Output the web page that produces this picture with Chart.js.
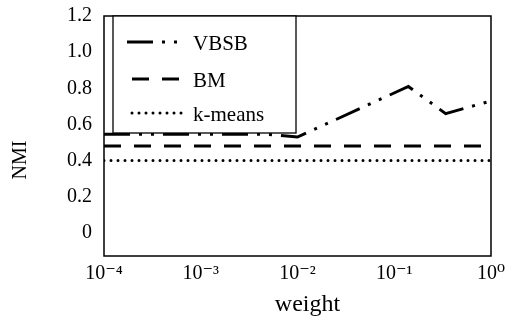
<!DOCTYPE html>
<html>
<head>
<meta charset="utf-8">
<script src="https://cdn.jsdelivr.net/npm/chart.js@4"></script>
<style>
  html, body { margin: 0; padding: 0; background: #fff; }
  #wrap { width: 511px; height: 324px; }
</style>
</head>
<body>
<div id="wrap"><canvas id="nmiChart" width="511" height="324"></canvas></div>
<script>
// Data
const vbsbWeights = [0.0001, 0.001, 0.005, 0.01, 0.14, 0.34, 1];
const vbsbNmi = [0.545, 0.545, 0.545, 0.53, 0.81, 0.66, 0.73];
const flatWeights = [0.0001, 1];
const bmNmi = [0.48, 0.48];
const kmeansNmi = [0.40, 0.40];

const xTickValues = [0.0001, 0.001, 0.01, 0.1, 1];
const xTickLabels = ["10⁻⁴", "10⁻³", "10⁻²", "10⁻¹", "10⁰"];
const yTickValues = [0, 0.2, 0.4, 0.6, 0.8, 1.0, 1.2];
const yTickLabels = ["0", "0.2", "0.4", "0.6", "0.8", "1.0", "1.2"];

const seriesNames = ["VBSB", "BM", "k-means"];
const xTitle = "weight";
const yTitle = "NMI";

const SERIF = "'Liberation Serif', 'DejaVu Serif', serif";

function pts(xs, ys) {
  return xs.map((x, i) => ({ x: x, y: ys[i] }));
}

// frame round the plot and the boxed legend
const framePlugin = {
  id: "frame",
  afterDatasetsDraw(chart) {
    const ctx = chart.ctx;
    const a = chart.chartArea;
    ctx.save();
    ctx.strokeStyle = "#000";
    ctx.lineWidth = 1.5;
    ctx.strokeRect(a.left, a.top, a.right - a.left, a.bottom - a.top);

    // legend box
    const bx = a.left + 9, by = a.top, bw = 183, bh = 117;
    ctx.fillStyle = "#fff";
    ctx.fillRect(bx, by, bw, bh);
    ctx.lineWidth = 1.3;
    ctx.strokeRect(bx, by, bw, bh);

    const rows = [
      { y: by + 26, x0: bx + 14, x1: bx + 66 },
      { y: by + 63, x0: bx + 19, x1: bx + 76 },
      { y: by + 97, x0: bx + 19, x1: bx + 70 }
    ];
    chart.data.datasets.forEach((ds, i) => {
      const r = rows[i];
      ctx.beginPath();
      ctx.strokeStyle = "#000";
      ctx.lineWidth = ds.borderWidth;
      ctx.lineCap = ds.borderCapStyle || "butt";
      ctx.setLineDash(ds.borderDash || []);
      ctx.moveTo(r.x0, r.y);
      ctx.lineTo(r.x1, r.y);
      ctx.stroke();
      ctx.setLineDash([]);
      ctx.fillStyle = "#000";
      ctx.font = "21px " + SERIF;
      ctx.textAlign = "left";
      ctx.textBaseline = "middle";
      ctx.fillText(ds.label, bx + 80, r.y + 2);
    });

    // axis titles
    ctx.font = "24px " + SERIF;
    ctx.textAlign = "center";
    ctx.textBaseline = "middle";
    ctx.fillText(xTitle, (a.left + a.right) / 2 + 10, 305);
    ctx.save();
    ctx.translate(21, 160);
    ctx.rotate(-Math.PI / 2);
    ctx.font = "20px " + SERIF;
    ctx.fillText(yTitle, 0, 0);
    ctx.restore();
    ctx.restore();
  }
};

new Chart(document.getElementById("nmiChart").getContext("2d"), {
  type: "line",
  data: {
    datasets: [
      {
        label: seriesNames[0],
        data: pts(vbsbWeights, vbsbNmi),
        borderColor: "#000",
        borderWidth: 3,
        borderDash: [26, 9, 3, 9, 3, 9],
        pointRadius: 0,
        tension: 0,
        fill: false
      },
      {
        label: seriesNames[1],
        data: pts(flatWeights, bmNmi),
        borderColor: "#000",
        borderWidth: 3,
        borderDash: [17, 13],
        pointRadius: 0,
        fill: false
      },
      {
        label: seriesNames[2],
        data: pts(flatWeights, kmeansNmi),
        borderColor: "#000",
        borderWidth: 3,
        borderDash: [0, 7],
        borderCapStyle: "round",
        pointRadius: 0,
        fill: false
      }
    ]
  },
  options: {
    responsive: false,
    animation: false,
    events: [],
    layout: { padding: { left: 0, right: 20, top: 16, bottom: 0 } },
    plugins: {
      legend: { display: false },
      tooltip: { enabled: false }
    },
    scales: {
      x: {
        type: "logarithmic",
        min: 0.0001,
        max: 1,
        grid: { display: false, drawTicks: false },
        border: { display: false },
        afterBuildTicks: scale => {
          scale.ticks = xTickValues.map(v => ({ value: v }));
        },
        afterFit: scale => { scale.height = 68; },
        ticks: {
          color: "#000",
          font: { family: SERIF, size: 20 },
          padding: 6,
          maxRotation: 0,
          autoSkip: false,
          callback: (v) => {
            const i = xTickValues.findIndex(t => Math.abs(Math.log10(t) - Math.log10(v)) < 1e-6);
            return i >= 0 ? xTickLabels[i] : "";
          }
        }
      },
      y: {
        min: -0.128,
        max: 1.2,
        grid: { display: false, drawTicks: false },
        border: { display: false },
        afterBuildTicks: scale => {
          scale.ticks = yTickValues.map(v => ({ value: v }));
        },
        afterFit: scale => {
          scale.width = 104;
          scale.paddingTop = 0;
          scale.paddingBottom = 0;
        },
        ticks: {
          color: "#000",
          font: { family: SERIF, size: 20 },
          padding: 12,
          autoSkip: false,
          callback: (v) => {
            const i = yTickValues.findIndex(t => Math.abs(t - v) < 1e-6);
            return i >= 0 ? yTickLabels[i] : "";
          }
        }
      }
    }
  },
  plugins: [framePlugin]
});
</script>
</body>
</html>
